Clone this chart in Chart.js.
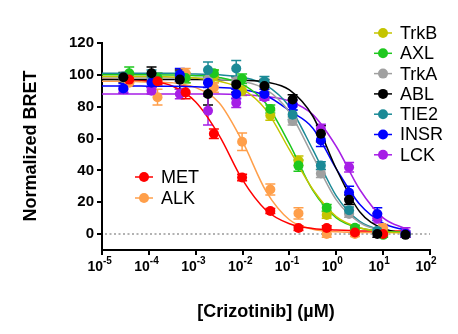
<!DOCTYPE html>
<html lang="en">
<head>
<meta charset="UTF-8">
<title>Crizotinib BRET</title>
<script src="https://cdn.jsdelivr.net/npm/chart.js"></script>
<style>
  html, body { margin: 0; padding: 0; background: #fff; }
  #wrap { width: 458px; height: 334px; }
</style>
</head>
<body>
<div id="wrap"><canvas id="bretChart" width="458" height="334"></canvas></div>
<script>
// doses in uM: two 4-fold series (30 uM top and 10 uM top)
const doseA = [0.0000286, 0.000114, 0.000458, 0.00183, 0.00732, 0.0293, 0.117, 0.469, 1.875, 7.5, 30];
const doseB = [0.0000381, 0.000153, 0.00061, 0.00244, 0.00977, 0.0391, 0.156, 0.625, 2.5, 10];
const fitX = [0.00001, 0.0000316, 0.0001, 0.000316, 0.001, 0.00316, 0.01, 0.0316, 0.1, 0.316, 1, 3.16, 10, 31.6];

const xTicks = [0.00001, 0.0001, 0.001, 0.01, 0.1, 1, 10, 100];
const xTickExp = ['-5', '-4', '-3', '-2', '-1', '0', '1', '2'];
const yTicks = [0, 20, 40, 60, 80, 100, 120];

// mean, SEM and curve values per kinase
const trkbMean = [99, 97, 98, 99, 90, 74.5, 46, 12, 3, 1];
const trkbErr  = [2, 4, 3, 4, 3, 3, 3, 2, 1.5, 1];
const trkbFit  = [99, 99, 99, 98.7, 98, 96, 91, 78, 53, 28, 11, 4, 1.5, 0.8];

const axlMean = [101, 98, 98, 101, 97.5, 78.5, 43, 16.5, 4, -0.5];
const axlErr  = [4, 3, 3, 2, 3, 2.5, 3.5, 2, 1.5, 1.5];
const axlFit  = [100, 100, 100, 99.9, 99.5, 98.4, 94, 82, 56.7, 27.4, 10.2, 3.8, 1.8, 1.2];

const trkaMean = [98, 98, 97, 97, 96, 94, 71, 38, 12.6, 2, 0];
const trkaErr  = [2, 2, 2, 2, 2, 2, 2.5, 2.5, 2, 1.5, 1];
const trkaFit  = [98, 98, 98, 98, 98, 97.4, 95.9, 90.8, 76.5, 49, 21.5, 7.2, 2.1, 0.8];

const ablMean = [98.5, 101, 97, 88, 94, 93, 84.5, 63, 21.5, 0, -0.5];
const ablErr  = [3, 4, 6, 7, 5, 4, 3, 5, 3, 2, 1.5];
const ablFit  = [97, 97, 97, 97, 97, 96.9, 96.6, 95.5, 90.5, 74, 41, 14, 3.5, 0.5];

const tie2Mean = [99, 100, 99, 103, 104, 96, 75, 43, 15, 2, 0];
const tie2Err  = [2, 3, 3, 5, 5, 3, 3, 2.5, 2, 1.5, 1];
const tie2Fit  = [101, 101, 101, 101, 100.5, 100, 98.5, 93.5, 80, 53, 24, 8, 2.5, 0.8];

const insrMean = [91.5, 95, 100, 95, 88, 88, 81, 59, 26, 12.6, 0];
const insrErr  = [3, 3, 4, 3, 3, 3, 3, 4, 4, 4, 2];
const insrFit  = [93, 93, 92.9, 92.8, 92.5, 92, 90.8, 87, 77.5, 66.5, 41, 18.7, 6.8, 2.3];

const lckMean = [91, 90, 88, 77.5, 82.5, 86, 82, 66, 42, 10, 1];
const lckErr  = [2, 2, 3, 9, 3, 2, 2, 3, 3, 3, 3];
const lckFit  = [88, 88, 88, 88, 88, 88, 87.5, 86.4, 83.5, 75, 55, 28, 10.2, 3.1];

const metMean = [97, 96, 89, 63, 35.5, 14.5, 3.8, 3.8, 1, 0];
const metErr  = [2, 2, 4, 3, 2, 1.5, 1.5, 1.5, 1, 1];
const metFit  = [97.5, 97, 96, 93, 83, 62, 34, 15, 6.5, 3.5, 2.5, 2, 2, 2];

const alkMean = [95, 86, 101, 92, 58, 28, 13, 0, 0, 4];
const alkErr  = [2, 5, 3, 3, 5.5, 3.5, 3.5, 2, 1.5, 2];
const alkFit  = [96, 96, 95.5, 95, 92, 82.5, 58, 27, 9, 3, 1.5, 1, 1, 1];

const series = [
  { name: 'TrkB', color: '#c4c400', x: doseB, y: trkbMean, err: trkbErr, fit: trkbFit },
  { name: 'AXL',  color: '#1ec81e', x: doseB, y: axlMean,  err: axlErr,  fit: axlFit },
  { name: 'TrkA', color: '#a0a0a0', x: doseA, y: trkaMean, err: trkaErr, fit: trkaFit },
  { name: 'ABL',  color: '#000000', x: doseA, y: ablMean,  err: ablErr,  fit: ablFit },
  { name: 'TIE2', color: '#1b8a96', x: doseA, y: tie2Mean, err: tie2Err, fit: tie2Fit },
  { name: 'INSR', color: '#0000ff', x: doseA, y: insrMean, err: insrErr, fit: insrFit },
  { name: 'LCK',  color: '#a61ee6', x: doseA, y: lckMean,  err: lckErr,  fit: lckFit },
  { name: 'MET',  color: '#ff0000', x: doseB, y: metMean,  err: metErr,  fit: metFit },
  { name: 'ALK',  color: '#ff9f4a', x: doseB, y: alkMean,  err: alkErr,  fit: alkFit }
];

const FONT = "'Liberation Sans', Arial, sans-serif";
Chart.defaults.font.family = FONT;

const datasets = [];
// points on top, ABL first so it sits above the rest
const pointOrder = ['ABL', 'MET', 'INSR', 'LCK', 'TIE2', 'AXL', 'ALK', 'TrkA', 'TrkB'];
series.forEach(s => {
  datasets.push({
    label: s.name,
    data: s.x.map((d, i) => ({ x: d, y: s.y[i] })),
    showLine: false,
    pointRadius: 5,
    pointBackgroundColor: s.color,
    pointBorderWidth: 0,
    order: pointOrder.indexOf(s.name)
  });
  datasets.push({
    label: s.name + ' fit',
    data: fitX.map((d, i) => ({ x: d, y: s.fit[i] })),
    showLine: true,
    borderColor: s.color,
    borderWidth: 1.5,
    pointRadius: 0,
    cubicInterpolationMode: 'monotone',
    fill: false,
    order: 20
  });
});

const extras = {
  id: 'bretExtras',
  beforeDatasetsDraw(chart) {
    const { ctx, chartArea } = chart;
    const x = chart.scales.x, y = chart.scales.y;
    ctx.save();
    // dotted zero line
    const y0 = y.getPixelForValue(0);
    ctx.strokeStyle = '#999';
    ctx.lineWidth = 1.5;
    ctx.setLineDash([2, 2.5]);
    ctx.beginPath();
    ctx.moveTo(chartArea.left + 3, y0);
    ctx.lineTo(chartArea.right, y0);
    ctx.stroke();
    ctx.setLineDash([]);
    // error bars
    series.forEach(s => {
      ctx.strokeStyle = s.color;
      ctx.lineWidth = 1.5;
      s.x.forEach((d, i) => {
        const px = x.getPixelForValue(d);
        const top = y.getPixelForValue(s.y[i] + s.err[i]);
        const bot = y.getPixelForValue(s.y[i] - s.err[i]);
        ctx.beginPath();
        ctx.moveTo(px, top); ctx.lineTo(px, bot);
        ctx.moveTo(px - 5, top); ctx.lineTo(px + 5, top);
        ctx.moveTo(px - 5, bot); ctx.lineTo(px + 5, bot);
        ctx.stroke();
      });
    });
    ctx.restore();
  },
  afterDraw(chart) {
    const { ctx } = chart;
    const x = chart.scales.x;
    ctx.save();
    ctx.fillStyle = '#000';
    // x tick labels as 10 with raised exponent
    xTicks.forEach((v, i) => {
      const px = x.getPixelForValue(v);
      ctx.font = 'bold 14px ' + FONT;
      ctx.textAlign = 'right';
      ctx.textBaseline = 'alphabetic';
      ctx.fillText('10', px + 1, 271);
      ctx.font = 'bold 10px ' + FONT;
      ctx.textAlign = 'left';
      ctx.fillText(xTickExp[i], px + 1, 264);
    });
    // axis titles
    ctx.font = 'bold 18px ' + FONT;
    ctx.textAlign = 'center';
    ctx.textBaseline = 'middle';
    ctx.fillText('[Crizotinib] (\u00b5M)', 266, 312);
    ctx.save();
    ctx.translate(31, 146);
    ctx.rotate(-Math.PI / 2);
    ctx.fillText('Normalized BRET', 0, 0);
    ctx.restore();
    // legends
    const item = (s, cx, cy) => {
      ctx.strokeStyle = s.color;
      ctx.fillStyle = s.color;
      ctx.lineWidth = 1.5;
      ctx.beginPath();
      ctx.moveTo(cx - 9, cy); ctx.lineTo(cx + 9, cy);
      ctx.stroke();
      ctx.beginPath();
      ctx.arc(cx, cy, 5, 0, Math.PI * 2);
      ctx.fill();
      ctx.fillStyle = '#000';
      ctx.font = '18px ' + FONT;
      ctx.textAlign = 'left';
      ctx.textBaseline = 'middle';
      ctx.fillText(s.name, cx + 17, cy + 1);
    };
    series.slice(0, 7).forEach((s, i) => item(s, 383, 33 + i * 20.3));
    item(series[7], 144, 177);
    item(series[8], 144, 198);
    ctx.restore();
  }
};

const axisGrid = { drawOnChartArea: false, drawTicks: true, tickLength: 5, color: '#000', lineWidth: 2 };
const axisBorder = { display: true, color: '#000', width: 2 };

new Chart(document.getElementById('bretChart'), {
  type: 'scatter',
  data: { datasets: datasets },
  options: {
    responsive: false,
    animation: false,
    layout: { padding: { top: 43, right: 28, left: 0, bottom: 0 } },
    plugins: { legend: { display: false }, tooltip: { enabled: false } },
    scales: {
      x: {
        type: 'logarithmic',
        min: 0.00001,
        max: 100,
        afterBuildTicks: s => { s.ticks = xTicks.map(v => ({ value: v })); },
        afterFit: s => { s.height = 84; },
        ticks: { display: false },
        grid: axisGrid,
        border: axisBorder
      },
      y: {
        min: -10,
        max: 120,
        afterBuildTicks: s => { s.ticks = yTicks.map(v => ({ value: v })); },
        afterFit: s => { s.width = 102; },
        ticks: { color: '#000', font: { size: 15, weight: 'bold' }, padding: 3 },
        grid: axisGrid,
        border: axisBorder
      }
    }
  },
  plugins: [extras]
});
</script>
</body>
</html>
